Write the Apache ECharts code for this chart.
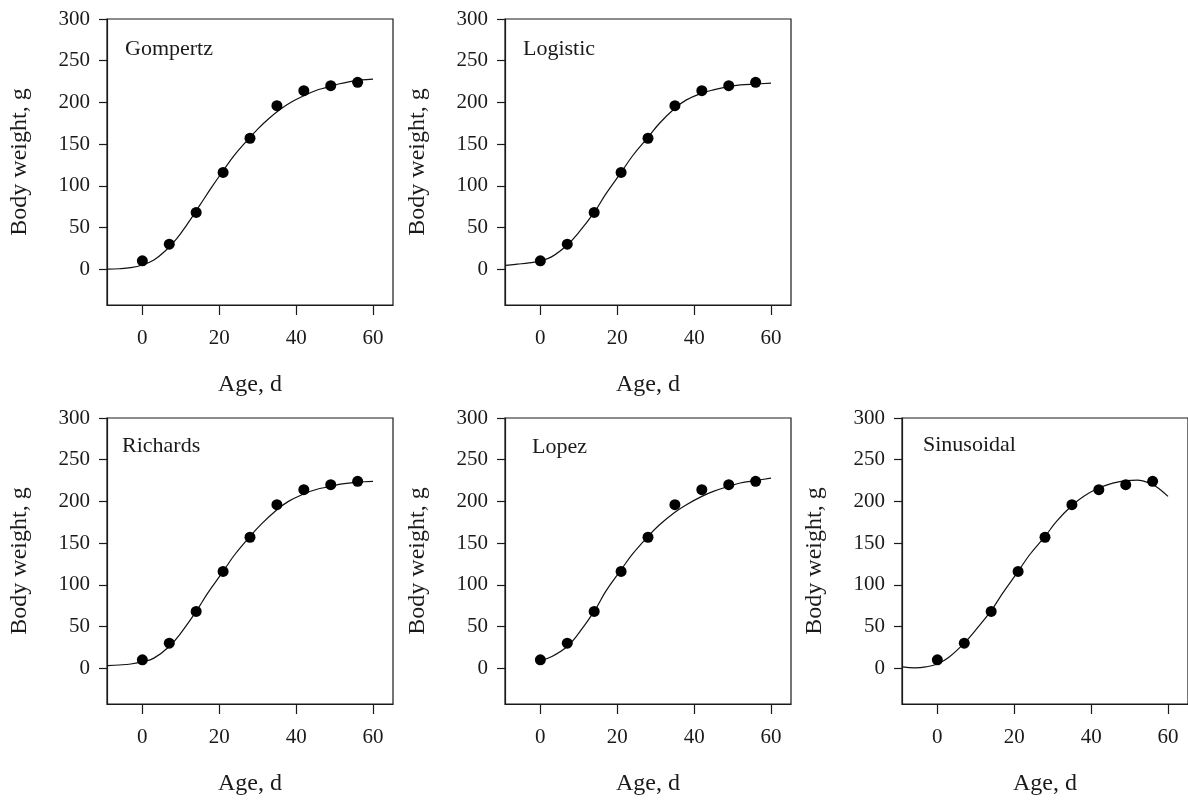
<!DOCTYPE html>
<html>
<head>
<meta charset="utf-8">
<script src="https://cdn.jsdelivr.net/npm/echarts@6/dist/echarts.min.js"></script>
<style>html,body{margin:0;padding:0;background:#fff;}#chart{width:1188px;height:800px;}</style>
</head>
<body>
<div id="chart"></div>
<script>
// ---- Data ----
const panelNames = ['Gompertz', 'Logistic', 'Richards', 'Lopez', 'Sinusoidal'];
const xTicks = [0, 20, 40, 60];
const yTicks = [0, 50, 100, 150, 200, 250, 300];

// observed body weight
const ages = [0, 7, 14, 21, 28, 35, 42, 49, 56];
const bodyWeight = [10, 30, 68, 116, 157, 196, 214, 220, 224];

// fitted curves
const gompertzAge = [-9, -6, -3, 0, 3, 6, 9, 12, 15, 18, 21, 24, 27, 30, 33, 36, 39, 42, 45, 48, 51, 54, 57, 60];
const gompertzFit = [0.1, 0.5, 1.8, 5, 11, 22, 37, 56, 77, 98, 118, 137, 153, 168, 181, 192, 201, 208, 214, 218, 222, 225, 227, 228];

const logisticAge = [-9, -6, -3, 0, 3, 7, 10, 14, 17, 21, 24, 28, 31, 35, 38, 42, 45, 49, 52, 56, 60];
const logisticFit = [4.5, 6, 7.5, 10, 15, 29, 44, 68, 90, 116, 136, 158, 175, 193, 203, 211, 215, 219, 221, 222, 223];

const richardsAge = [-9, -6, -3, 0, 3, 7, 10, 14, 17, 21, 24, 28, 31, 35, 38, 42, 45, 49, 52, 56, 60];
const richardsFit = [3, 3.8, 5, 7.5, 12, 26, 42, 68, 90, 116, 136, 158, 173, 190, 200, 209, 214, 218, 221, 223, 224];

const lopezAge = [0, 3, 7, 10, 14, 17, 21, 24, 28, 31, 35, 38, 42, 45, 49, 52, 56, 60];
const lopezFit = [9, 14, 26, 42, 68, 92, 118, 137, 158, 172, 187, 196, 206, 212, 218, 222, 225, 228];

const sinusoidalAge = [-9, -6, -3, 0, 3, 7, 10, 14, 17, 21, 24, 28, 31, 35, 38, 42, 45, 49, 52, 56, 58, 60];
const sinusoidalFit = [1.5, 0.4, 1.5, 5, 13, 30, 46, 69, 90, 116, 136, 158, 176, 195, 206, 216, 221, 225, 225.5, 220, 214, 206];

const curveAges = [gompertzAge, logisticAge, richardsAge, lopezAge, sinusoidalAge];
const curveFits = [gompertzFit, logisticFit, richardsFit, lopezFit, sinusoidalFit];

// ---- Layout ----
const FONT = '"Liberation Serif", "Times New Roman", serif';
const INK = '#1a1a1a';
const grids = [
  { left: 107, top: 19, width: 286, height: 286 },
  { left: 505, top: 19, width: 286, height: 286 },
  { left: 107, top: 418, width: 286, height: 286 },
  { left: 505, top: 418, width: 286, height: 286 },
  { left: 902, top: 418, width: 287, height: 286 }
];
const labelPos = [[125, 49], [523, 49], [122, 446], [532, 447], [923, 445]];

const toPairs = (xs, ys) => xs.map((x, i) => [x, ys[i]]);

const option = {
  animation: false,
  backgroundColor: '#fff',
  grid: grids.map(g => Object.assign({ show: true, borderColor: INK, borderWidth: 1.2, backgroundColor: 'transparent' }, g)),
  xAxis: grids.map((g, i) => ({
    type: 'value', gridIndex: i, min: -9.2, max: 65.2,
    name: 'Age, d', nameLocation: 'middle', nameGap: 68,
    nameTextStyle: { fontFamily: FONT, fontSize: 24, color: INK },
    splitLine: { show: false },
    axisLine: { show: true, onZero: false, lineStyle: { color: INK, width: 1.2 } },
    axisTick: { show: true, length: 10, inside: false, customValues: xTicks, lineStyle: { color: INK, width: 1.2 } },
    axisLabel: { customValues: xTicks, margin: 23, fontFamily: FONT, fontSize: 21, color: INK }
  })),
  yAxis: grids.map((g, i) => ({
    type: 'value', gridIndex: i, min: -43, max: 300,
    name: 'Body weight, g', nameLocation: 'middle', nameGap: 75,
    nameTextStyle: { fontFamily: FONT, fontSize: 24, color: INK },
    splitLine: { show: false },
    axisLine: { show: true, onZero: false, lineStyle: { color: INK, width: 1.2 } },
    axisTick: { show: true, length: 8, inside: false, customValues: yTicks, lineStyle: { color: INK, width: 1.2 } },
    axisLabel: { customValues: yTicks, margin: 17, fontFamily: FONT, fontSize: 21, color: INK }
  })),
  graphic: panelNames.map((n, i) => ({
    type: 'text', x: labelPos[i][0], y: labelPos[i][1],
    style: { text: n, font: '22px ' + FONT, fill: INK, textVerticalAlign: 'middle', textAlign: 'left' }
  })),
  series: [].concat(
    curveFits.map((fit, i) => ({
      type: 'line', xAxisIndex: i, yAxisIndex: i,
      data: toPairs(curveAges[i], fit),
      smooth: 0.4, showSymbol: false, symbol: 'none',
      lineStyle: { color: '#111', width: 1.2 }, z: 2
    })),
    panelNames.map((n, i) => ({
      type: 'scatter', xAxisIndex: i, yAxisIndex: i,
      data: toPairs(ages, bodyWeight),
      symbol: 'circle', symbolSize: 11,
      itemStyle: { color: '#000', opacity: 1 }, z: 3
    }))
  )
};

echarts.init(document.getElementById('chart')).setOption(option);
</script>
</body>
</html>
